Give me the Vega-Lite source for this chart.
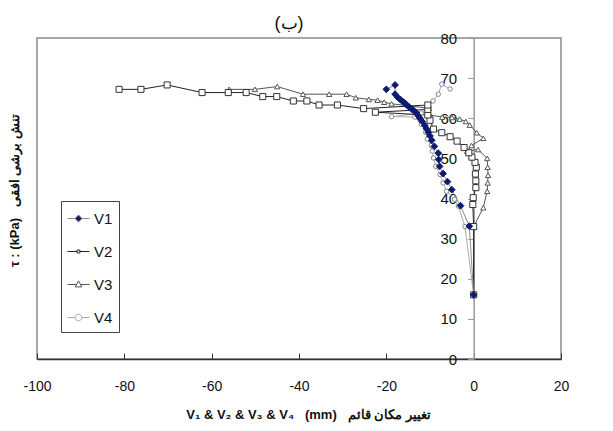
{
  "$schema": "https://vega.github.io/schema/vega-lite/v6.json",
  "width": 524,
  "height": 321,
  "autosize": {"type": "none"},
  "padding": {"left": 37, "top": 38, "right": 52, "bottom": 72},
  "background": "white",
  "title": {"text": "(ب)", "fontSize": 18, "fontWeight": "normal", "font": "Liberation Sans", "color": "#111", "frame": "group", "offset": -2, "dx": -10},
  "config": {"view": {"stroke": "#8a8a8a", "strokeWidth": 1.5}, "font": "Liberation Sans"},
  "data": {"values": [
    {"s": "V4", "i": 1, "x": 0, "y": 16},
    {"s": "V4", "i": 2, "x": -2, "y": 33},
    {"s": "V4", "i": 3, "x": -3.5, "y": 38.1},
    {"s": "V4", "i": 4, "x": -4.4, "y": 39.8},
    {"s": "V4", "i": 5, "x": -6.2, "y": 41.8},
    {"s": "V4", "i": 6, "x": -7, "y": 43.9},
    {"s": "V4", "i": 7, "x": -7.7, "y": 46},
    {"s": "V4", "i": 8, "x": -8.7, "y": 48},
    {"s": "V4", "i": 9, "x": -9.2, "y": 50.1},
    {"s": "V4", "i": 10, "x": -9.5, "y": 51.8},
    {"s": "V4", "i": 11, "x": -9.7, "y": 53.2},
    {"s": "V4", "i": 12, "x": -10.6, "y": 54.8},
    {"s": "V4", "i": 13, "x": -11, "y": 56.5},
    {"s": "V4", "i": 14, "x": -12, "y": 58.5},
    {"s": "V4", "i": 15, "x": -13.5, "y": 60.3},
    {"s": "V4", "i": 16, "x": -18.8, "y": 60.4},
    {"s": "V4", "i": 17, "x": -12, "y": 61.3},
    {"s": "V4", "i": 18, "x": -10.3, "y": 62.8},
    {"s": "V4", "i": 19, "x": -9.3, "y": 64.3},
    {"s": "V4", "i": 20, "x": -8.1, "y": 66},
    {"s": "V4", "i": 21, "x": -7.3, "y": 68.5},
    {"s": "V4", "i": 22, "x": -5.4, "y": 67.3},
    {"s": "V3", "i": 1, "x": 0, "y": 16},
    {"s": "V3", "i": 2, "x": 0, "y": 33},
    {"s": "V3", "i": 3, "x": 2.2, "y": 37.7},
    {"s": "V3", "i": 4, "x": 3.1, "y": 41.8},
    {"s": "V3", "i": 5, "x": 3.2, "y": 43.9},
    {"s": "V3", "i": 6, "x": 3.3, "y": 45.8},
    {"s": "V3", "i": 7, "x": 3.2, "y": 47.8},
    {"s": "V3", "i": 8, "x": 3.1, "y": 50},
    {"s": "V3", "i": 9, "x": 1, "y": 52.2},
    {"s": "V3", "i": 10, "x": -1.5, "y": 51.8},
    {"s": "V3", "i": 11, "x": -0.5, "y": 53.2},
    {"s": "V3", "i": 12, "x": 2.2, "y": 55},
    {"s": "V3", "i": 13, "x": 0.7, "y": 56.4},
    {"s": "V3", "i": 14, "x": -0.9, "y": 58.3},
    {"s": "V3", "i": 15, "x": -1.8, "y": 59.2},
    {"s": "V3", "i": 16, "x": -3.2, "y": 59.8},
    {"s": "V3", "i": 17, "x": -5, "y": 60.2},
    {"s": "V3", "i": 18, "x": -7.2, "y": 60.3},
    {"s": "V3", "i": 19, "x": -10, "y": 60.8},
    {"s": "V3", "i": 20, "x": -10.2, "y": 62.5},
    {"s": "V3", "i": 21, "x": -18.8, "y": 63.6},
    {"s": "V3", "i": 22, "x": -20.5, "y": 64},
    {"s": "V3", "i": 23, "x": -22, "y": 64.5},
    {"s": "V3", "i": 24, "x": -24, "y": 64.7},
    {"s": "V3", "i": 25, "x": -27, "y": 65.1},
    {"s": "V3", "i": 26, "x": -29.1, "y": 66},
    {"s": "V3", "i": 27, "x": -33.1, "y": 66},
    {"s": "V3", "i": 28, "x": -39.1, "y": 66},
    {"s": "V3", "i": 29, "x": -45, "y": 67.9},
    {"s": "V3", "i": 30, "x": -50.1, "y": 67.2},
    {"s": "V3", "i": 31, "x": -56, "y": 67.2},
    {"s": "V2", "i": 1, "x": 0, "y": 16},
    {"s": "V2", "i": 2, "x": 0, "y": 33},
    {"s": "V2", "i": 3, "x": -0.2, "y": 38.5},
    {"s": "V2", "i": 4, "x": -0.1, "y": 40.2},
    {"s": "V2", "i": 5, "x": 0.5, "y": 42.7},
    {"s": "V2", "i": 6, "x": 0.5, "y": 44.4},
    {"s": "V2", "i": 7, "x": 0.4, "y": 46.1},
    {"s": "V2", "i": 8, "x": 0.6, "y": 47.8},
    {"s": "V2", "i": 9, "x": 0.3, "y": 49},
    {"s": "V2", "i": 10, "x": -0.4, "y": 50.3},
    {"s": "V2", "i": 11, "x": -1.1, "y": 51.4},
    {"s": "V2", "i": 12, "x": -2.2, "y": 52.7},
    {"s": "V2", "i": 13, "x": -3.8, "y": 54.3},
    {"s": "V2", "i": 14, "x": -5.4, "y": 55.4},
    {"s": "V2", "i": 15, "x": -7.3, "y": 56.4},
    {"s": "V2", "i": 16, "x": -9.2, "y": 57.3},
    {"s": "V2", "i": 17, "x": -10, "y": 59.5},
    {"s": "V2", "i": 18, "x": -10.5, "y": 60.8},
    {"s": "V2", "i": 19, "x": -22.5, "y": 61.5},
    {"s": "V2", "i": 20, "x": -10.5, "y": 62.2},
    {"s": "V2", "i": 21, "x": -10.5, "y": 63.3},
    {"s": "V2", "i": 22, "x": -25.2, "y": 62.4},
    {"s": "V2", "i": 23, "x": -31.2, "y": 63.3},
    {"s": "V2", "i": 24, "x": -35.4, "y": 63.3},
    {"s": "V2", "i": 25, "x": -38.2, "y": 64.3},
    {"s": "V2", "i": 26, "x": -41.3, "y": 64.3},
    {"s": "V2", "i": 27, "x": -45.1, "y": 65.4},
    {"s": "V2", "i": 28, "x": -48.3, "y": 65.4},
    {"s": "V2", "i": 29, "x": -52.1, "y": 66.4},
    {"s": "V2", "i": 30, "x": -56.2, "y": 66.4},
    {"s": "V2", "i": 31, "x": -62.2, "y": 66.4},
    {"s": "V2", "i": 32, "x": -70.2, "y": 68.3},
    {"s": "V2", "i": 33, "x": -76.2, "y": 67.2},
    {"s": "V2", "i": 34, "x": -81.2, "y": 67.2},
    {"s": "V1", "i": 1, "x": 0, "y": 16},
    {"s": "V1", "i": 2, "x": -1, "y": 33.1},
    {"s": "V1", "i": 3, "x": -3, "y": 38.2},
    {"s": "V1", "i": 4, "x": -5, "y": 42.2},
    {"s": "V1", "i": 5, "x": -6, "y": 44.2},
    {"s": "V1", "i": 6, "x": -7, "y": 46.2},
    {"s": "V1", "i": 7, "x": -7.8, "y": 48},
    {"s": "V1", "i": 8, "x": -8, "y": 49.7},
    {"s": "V1", "i": 9, "x": -8.1, "y": 51.3},
    {"s": "V1", "i": 10, "x": -9, "y": 53},
    {"s": "V1", "i": 11, "x": -9.6, "y": 54.5},
    {"s": "V1", "i": 12, "x": -10, "y": 55.6},
    {"s": "V1", "i": 13, "x": -10.4, "y": 56.5},
    {"s": "V1", "i": 14, "x": -10.8, "y": 57.4},
    {"s": "V1", "i": 15, "x": -11.2, "y": 58.2},
    {"s": "V1", "i": 16, "x": -11.8, "y": 59.2},
    {"s": "V1", "i": 17, "x": -12.3, "y": 60},
    {"s": "V1", "i": 18, "x": -12.7, "y": 60.6},
    {"s": "V1", "i": 19, "x": -13.1, "y": 61.3},
    {"s": "V1", "i": 20, "x": -13.6, "y": 61.8},
    {"s": "V1", "i": 21, "x": -14.2, "y": 62.3},
    {"s": "V1", "i": 22, "x": -14.8, "y": 62.8},
    {"s": "V1", "i": 23, "x": -15.3, "y": 63.3},
    {"s": "V1", "i": 24, "x": -15.8, "y": 63.8},
    {"s": "V1", "i": 25, "x": -16.3, "y": 64.2},
    {"s": "V1", "i": 26, "x": -16.8, "y": 64.7},
    {"s": "V1", "i": 27, "x": -17.4, "y": 65.2},
    {"s": "V1", "i": 28, "x": -18, "y": 66},
    {"s": "V1", "i": 29, "x": -18, "y": 68.3},
    {"s": "V1", "i": 30, "x": -20, "y": 67.2}
  ]},
  "encoding": {
    "x": {
      "field": "x", "type": "quantitative",
      "scale": {"domain": [-100, 20], "nice": false, "zero": false},
      "axis": {
        "values": [-100, -80, -60, -40, -20, 0, 20],
        "labelExpr": "replace(datum.label, '−', '-')",
        "grid": false, "tickSize": -6, "tickColor": "#333", "tickWidth": 1,
        "domainColor": "#333", "domainWidth": 1.5,
        "labelFontSize": 14, "labelFont": "Liberation Sans Narrow, Liberation Sans", "labelColor": "#111",
        "labelPadding": 26, "labelFlush": false, "labelBound": false, "labelOverlap": false,
        "title": "V₁ & V₂ & V₃ & V₄ \u00a0 (mm) \u00a0 تغییر مکان قائم",
        "titleFontSize": 13, "titleFontWeight": "bold", "titleColor": "#111",
        "titleX": 271, "titleY": 55, "titleBaseline": "middle", "titleAlign": "center"
      }
    },
    "y": {
      "field": "y", "type": "quantitative",
      "scale": {"domain": [0, 80], "nice": false},
      "axis": {
        "values": [0, 10, 20, 30, 40, 50, 60, 70, 80],
        "offset": -436.67,
        "grid": false, "tickSize": 6, "tickColor": "#999", "domainColor": "#999", "domainWidth": 1.5,
        "labelFontSize": 15, "labelFont": "Liberation Sans Narrow, Liberation Sans", "labelColor": "#111",
        "labelPadding": 11, "labelFlush": false, "labelBound": false, "labelOverlap": false,
        "title": "τ : (kPa) \u00a0 تنش برشی افقی",
        "titleFontSize": 13, "titleFontWeight": "bold", "titleColor": "#111",
        "titleAngle": -90, "titleX": -458.7, "titleY": 152, "titleBaseline": "middle", "titleAlign": "center"
      }
    }
  },
  "layer": [
    {
      "mark": {"type": "line", "strokeWidth": 1},
      "encoding": {
        "stroke": {
          "field": "s", "type": "nominal",
          "scale": {"domain": ["V1", "V2", "V3", "V4"], "range": ["#8c8c8c", "#222222", "#555555", "#aaaaaa"]},
          "legend": {
            "orient": "none", "legendX": 24, "legendY": 163, "title": null, "padding": 6,
            "strokeColor": "#444", "symbolSize": 484, "symbolStrokeWidth": 1,
            "labelFontSize": 15, "labelFont": "Liberation Sans Narrow, Liberation Sans", "labelColor": "#111",
            "labelOffset": 4, "rowPadding": 13, "labelExpr": "datum.label + '   '",
            "encode": {
              "symbols": {
                "update": {
                  "shape": {"signal": "datum.value === 'V1' ? 'M-1,0H-0.32M0.32,0H1M0,-0.32L0.32,0L0,0.32L-0.32,0Z' : datum.value === 'V2' ? 'M-1,0H-0.13M0.13,0H1M-0.13,-0.13H0.13V0.13H-0.13Z' : datum.value === 'V3' ? 'M-1,0H-0.18M0.18,0H1M0,-0.33L0.3,0.22L-0.3,0.22Z' : 'M-1,0H-0.3M0.3,0H1M0.3,0A0.3,0.3 0 1,1 -0.3,0A0.3,0.3 0 1,1 0.3,0Z'"},
                  "fill": {"signal": "datum.value === 'V1' ? '#0d1a72' : '#ffffff'"},
                  "fillOpacity": {"value": 1},
                  "stroke": {"signal": "datum.value === 'V1' ? '#0d1a72' : datum.value === 'V2' ? '#222222' : datum.value === 'V3' ? '#555555' : '#999999'"},
                  "strokeWidth": {"value": 1},
                  "opacity": {"value": 1}
                }
              }
            }
          }
        },
        "order": {"field": "i", "type": "quantitative"}
      }
    },
    {
      "mark": {"type": "point", "opacity": 1, "strokeWidth": 1},
      "encoding": {
        "shape": {
          "field": "s", "type": "nominal",
          "scale": {"domain": ["V1", "V2", "V3", "V4"], "range": ["diamond", "square", "triangle-up", "circle"]},
          "legend": null
        },
        "fill": {
          "field": "s", "type": "nominal",
          "scale": {"domain": ["V1", "V2", "V3", "V4"], "range": ["#0d1a72", "#ffffff", "#ffffff", "#ffffff"]},
          "legend": null
        },
        "stroke": {
          "field": "s", "type": "nominal",
          "scale": {"domain": ["V1", "V2", "V3", "V4"], "range": ["#0d1a72", "#333333", "#555555", "#888888"]},
          "legend": null
        },
        "size": {
          "field": "s", "type": "nominal",
          "scale": {"domain": ["V1", "V2", "V3", "V4"], "range": [45, 20, 45, 70]},
          "legend": null
        }
      }
    }
  ],
  "resolve": {"scale": {"stroke": "independent"}, "legend": {"stroke": "independent"}}
}
